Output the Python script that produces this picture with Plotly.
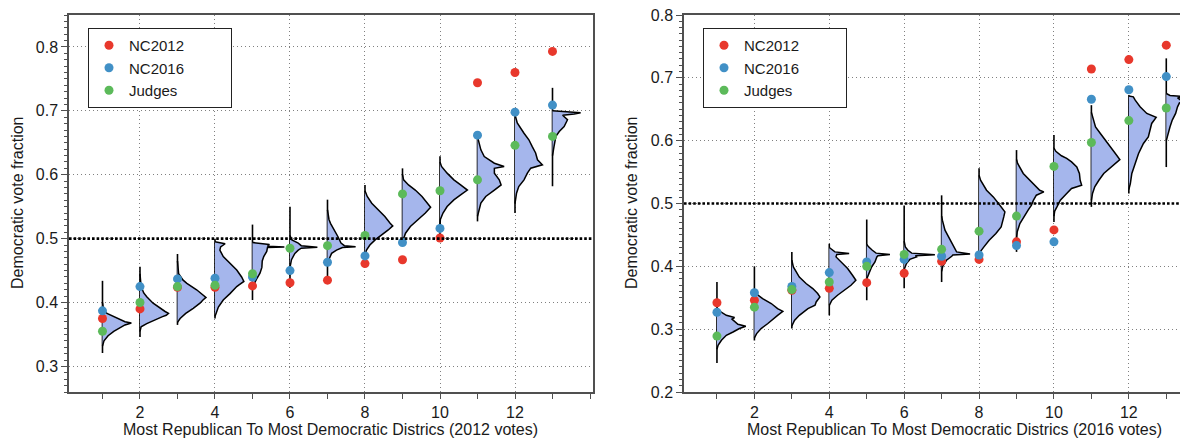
import plotly.graph_objects as go

DISTRICTS = list(range(1, 14))
THRESHOLD = 0.5

# ---------------- Left panel (2012 votes) ----------------
NC2012_A = [0.375, 0.390, 0.424, 0.424, 0.426, 0.431, 0.435, 0.461, 0.467, 0.501, 0.744, 0.760, 0.793]
NC2016_A = [0.387, 0.425, 0.437, 0.438, 0.440, 0.450, 0.463, 0.473, 0.494, 0.516, 0.662, 0.698, 0.709]
JUDGES_A = [0.355, 0.400, 0.425, 0.427, 0.445, 0.485, 0.489, 0.505, 0.570, 0.575, 0.592, 0.646, 0.660]

LINE_HI_A = [0.434, 0.456, 0.476, 0.500, 0.522, 0.550, 0.561, 0.584, 0.610, 0.629, 0.668, 0.699, 0.736]
LINE_LO_A = [0.321, 0.346, 0.365, 0.375, 0.404, 0.423, 0.433, 0.461, 0.494, 0.501, 0.527, 0.540, 0.582]

PROF_Y_A = [
    [0.400, 0.388, 0.383, 0.378, 0.375, 0.370, 0.368, 0.365, 0.360, 0.355, 0.348, 0.340, 0.332],
    [0.445, 0.425, 0.415, 0.409, 0.399, 0.391, 0.386, 0.383, 0.380, 0.378, 0.373, 0.367, 0.362, 0.355],
    [0.465, 0.445, 0.435, 0.430, 0.420, 0.412, 0.408, 0.404, 0.399, 0.391, 0.383, 0.375, 0.369],
    [0.495, 0.492, 0.487, 0.482, 0.472, 0.461, 0.451, 0.440, 0.433, 0.428, 0.425, 0.414, 0.404, 0.393, 0.383, 0.378],
    [0.494, 0.491, 0.488, 0.487, 0.486, 0.480, 0.472, 0.465, 0.455, 0.446, 0.438, 0.430, 0.424],
    [0.505, 0.498, 0.493, 0.489, 0.4865, 0.485, 0.482, 0.477, 0.467, 0.455],
    [0.545, 0.530, 0.524, 0.514, 0.503, 0.493, 0.489, 0.4875, 0.486, 0.482, 0.477, 0.469, 0.462],
    [0.575, 0.566, 0.5555, 0.545, 0.5345, 0.524, 0.520, 0.5136, 0.5058, 0.498, 0.490, 0.482, 0.475],
    [0.600, 0.592, 0.584, 0.576, 0.566, 0.5555, 0.549, 0.540, 0.529, 0.519, 0.5085, 0.500, 0.495],
    [0.620, 0.613, 0.6025, 0.592, 0.584, 0.576, 0.5685, 0.5607, 0.5502, 0.540, 0.530, 0.522],
    [0.662, 0.655, 0.639, 0.6285, 0.618, 0.613, 0.610, 0.6025, 0.592, 0.584, 0.576, 0.566, 0.5555, 0.545, 0.535],
    [0.694, 0.681, 0.665, 0.6547, 0.644, 0.634, 0.6234, 0.6155, 0.6103, 0.6025, 0.592, 0.5815, 0.571, 0.555],
    [0.700, 0.699, 0.697, 0.695, 0.693, 0.686, 0.680, 0.6755, 0.6677, 0.660, 0.644, 0.630],
]
PROF_W_A = [
    [0.0, 0.03, 0.12, 0.30, 0.45, 0.60, 0.77, 0.60, 0.45, 0.30, 0.15, 0.04, 0.0],
    [0.0, 0.03, 0.10, 0.18, 0.35, 0.53, 0.67, 0.76, 0.70, 0.60, 0.40, 0.18, 0.03, 0.0],
    [0.0, 0.03, 0.15, 0.25, 0.51, 0.69, 0.76, 0.68, 0.60, 0.42, 0.22, 0.07, 0.0],
    [0.0, 0.27, 0.15, 0.13, 0.22, 0.40, 0.58, 0.71, 0.77, 0.65, 0.58, 0.40, 0.22, 0.09, 0.03, 0.0],
    [0.0, 0.45, 0.40, 0.85, 0.40, 0.38, 0.30, 0.26, 0.25, 0.20, 0.12, 0.04, 0.0],
    [0.0, 0.05, 0.22, 0.30, 0.73, 0.30, 0.22, 0.13, 0.04, 0.0],
    [0.0, 0.04, 0.08, 0.18, 0.28, 0.36, 0.45, 0.75, 0.40, 0.24, 0.11, 0.05, 0.0],
    [0.0, 0.06, 0.18, 0.36, 0.53, 0.67, 0.74, 0.62, 0.44, 0.27, 0.13, 0.04, 0.0],
    [0.0, 0.03, 0.16, 0.34, 0.52, 0.66, 0.75, 0.61, 0.39, 0.21, 0.08, 0.02, 0.0],
    [0.0, 0.04, 0.19, 0.37, 0.55, 0.73, 0.55, 0.37, 0.19, 0.08, 0.01, 0.0],
    [0.0, 0.02, 0.09, 0.18, 0.45, 0.71, 0.45, 0.45, 0.58, 0.63, 0.45, 0.22, 0.09, 0.04, 0.0],
    [0.0, 0.06, 0.24, 0.37, 0.46, 0.55, 0.60, 0.73, 0.42, 0.33, 0.24, 0.10, 0.04, 0.0],
    [0.0, 0.36, 0.75, 0.58, 0.27, 0.40, 0.36, 0.31, 0.18, 0.09, 0.04, 0.0],
]

# ---------------- Right panel (2016 votes) ----------------
NC2012_B = [0.342, 0.346, 0.362, 0.365, 0.374, 0.389, 0.408, 0.411, 0.439, 0.458, 0.714, 0.729, 0.752]
NC2016_B = [0.327, 0.358, 0.368, 0.390, 0.407, 0.411, 0.416, 0.418, 0.433, 0.439, 0.666, 0.681, 0.702]
JUDGES_B = [0.289, 0.335, 0.363, 0.375, 0.400, 0.419, 0.427, 0.456, 0.480, 0.559, 0.597, 0.632, 0.652]

LINE_HI_B = [0.375, 0.400, 0.423, 0.436, 0.4745, 0.497, 0.513, 0.556, 0.585, 0.609, 0.6565, 0.6724, 0.731]
LINE_LO_B = [0.246, 0.282, 0.301, 0.322, 0.346, 0.365, 0.375, 0.410, 0.423, 0.4707, 0.4946, 0.516, 0.558]

PROF_Y_B = [
    [0.335, 0.330, 0.322, 0.3185, 0.316, 0.3142, 0.3078, 0.3046, 0.301, 0.2955, 0.2903, 0.2823, 0.2744, 0.268],
    [0.362, 0.3567, 0.3487, 0.3408, 0.3328, 0.3285, 0.322, 0.317, 0.309, 0.301, 0.293, 0.286],
    [0.410, 0.399, 0.383, 0.3726, 0.3646, 0.3567, 0.3513, 0.3433, 0.338, 0.3328, 0.322, 0.314, 0.305],
    [0.430, 0.428, 0.423, 0.4204, 0.419, 0.415, 0.407, 0.3965, 0.3858, 0.3779, 0.3699, 0.362, 0.354, 0.346, 0.338],
    [0.435, 0.431, 0.4256, 0.421, 0.419, 0.417, 0.415, 0.407, 0.399, 0.391, 0.380],
    [0.440, 0.431, 0.4256, 0.421, 0.4185, 0.417, 0.415, 0.411, 0.4045, 0.395],
    [0.480, 0.4734, 0.4575, 0.4468, 0.4363, 0.428, 0.423, 0.4195, 0.418, 0.416, 0.4097, 0.400, 0.392],
    [0.545, 0.537, 0.5212, 0.5105, 0.500, 0.492, 0.4866, 0.4787, 0.4707, 0.4628, 0.4522, 0.4416, 0.431, 0.423, 0.418],
    [0.570, 0.5637, 0.5478, 0.537, 0.529, 0.521, 0.5185, 0.5132, 0.505, 0.4974, 0.4894, 0.4787, 0.468, 0.455, 0.445],
    [0.588, 0.583, 0.576, 0.5717, 0.5663, 0.5583, 0.5478, 0.537, 0.5292, 0.524, 0.516, 0.5053, 0.4946, 0.488, 0.480],
    [0.645, 0.638, 0.622, 0.6115, 0.598, 0.590, 0.5796, 0.570, 0.5637, 0.5583, 0.5478, 0.537, 0.5265, 0.516, 0.505],
    [0.671, 0.6698, 0.6645, 0.6539, 0.6433, 0.637, 0.6274, 0.6167, 0.606, 0.5955, 0.5796, 0.5637, 0.5478, 0.5318, 0.522],
    [0.675, 0.672, 0.670, 0.668, 0.665, 0.662, 0.660, 0.6539, 0.6433, 0.6327, 0.622, 0.6115, 0.600],
]
PROF_W_B = [
    [0.0, 0.04, 0.25, 0.47, 0.40, 0.43, 0.56, 0.77, 0.60, 0.43, 0.25, 0.12, 0.03, 0.0],
    [0.0, 0.04, 0.22, 0.45, 0.62, 0.76, 0.62, 0.53, 0.36, 0.18, 0.06, 0.0],
    [0.0, 0.04, 0.20, 0.38, 0.56, 0.69, 0.75, 0.65, 0.62, 0.43, 0.20, 0.07, 0.0],
    [0.0, 0.05, 0.15, 0.53, 0.20, 0.18, 0.31, 0.49, 0.62, 0.71, 0.58, 0.40, 0.22, 0.07, 0.0],
    [0.0, 0.05, 0.15, 0.25, 0.62, 0.30, 0.27, 0.22, 0.13, 0.07, 0.0],
    [0.0, 0.03, 0.10, 0.20, 0.82, 0.30, 0.33, 0.15, 0.06, 0.0],
    [0.0, 0.02, 0.09, 0.18, 0.27, 0.36, 0.40, 0.76, 0.30, 0.27, 0.13, 0.03, 0.0],
    [0.0, 0.04, 0.20, 0.38, 0.52, 0.63, 0.69, 0.66, 0.63, 0.59, 0.45, 0.27, 0.13, 0.03, 0.0],
    [0.0, 0.03, 0.18, 0.36, 0.49, 0.62, 0.73, 0.53, 0.45, 0.40, 0.31, 0.20, 0.09, 0.02, 0.0],
    [0.0, 0.05, 0.20, 0.34, 0.47, 0.61, 0.68, 0.70, 0.74, 0.47, 0.34, 0.17, 0.08, 0.02, 0.0],
    [0.0, 0.03, 0.11, 0.24, 0.42, 0.51, 0.64, 0.76, 0.64, 0.51, 0.33, 0.20, 0.09, 0.03, 0.0],
    [0.0, 0.12, 0.17, 0.30, 0.48, 0.73, 0.61, 0.57, 0.52, 0.39, 0.26, 0.17, 0.08, 0.04, 0.0],
    [0.0, 0.10, 0.52, 0.30, 0.38, 0.52, 0.35, 0.30, 0.25, 0.16, 0.10, 0.05, 0.0],
]

X_TITLE_A = "Most Republican To Most Democratic Districs (2012 votes)"
X_TITLE_B = "Most Republican To Most Democratic Districs (2016 votes)"
Y_TITLE = "Democratic vote fraction"
SERIES_NAMES = ["NC2012", "NC2016", "Judges"]

RED = "#e8382c"
BLUE = "#4190c6"
GREEN = "#5cba5a"
FILL = "#a5b6ec"
FONT = "Liberation Sans, Arial, Helvetica, sans-serif"
FS = 16

fig = go.Figure()


def add_panel(xa, ya, legend, line_lo, line_hi, prof_y, prof_w, s12, s16, sj):
    for d, lo, hi in zip(DISTRICTS, line_lo, line_hi):
        fig.add_trace(go.Scatter(x=[d, d], y=[hi, lo], mode="lines",
                                 line=dict(color="#000000", width=1.6),
                                 xaxis=xa, yaxis=ya, showlegend=False, hoverinfo="skip"))
    for d, ys, ws in zip(DISTRICTS, prof_y, prof_w):
        fig.add_trace(go.Scatter(x=[d + w for w in ws], y=ys, mode="lines",
                                 fill="toself", fillcolor=FILL,
                                 line=dict(color="#000000", width=1.5),
                                 xaxis=xa, yaxis=ya, showlegend=False, hoverinfo="skip"))
    for name, vals, col in zip(SERIES_NAMES, (s12, s16, sj), (RED, BLUE, GREEN)):
        fig.add_trace(go.Scatter(x=DISTRICTS, y=vals, mode="markers",
                                 name=name + "\u00a0" * 10,
                                 marker=dict(color=col, size=9, line=dict(width=0)),
                                 xaxis=xa, yaxis=ya, legend=legend))


add_panel("x", "y", "legend", LINE_LO_A, LINE_HI_A, PROF_Y_A, PROF_W_A, NC2012_A, NC2016_A, JUDGES_A)
add_panel("x2", "y2", "legend2", LINE_LO_B, LINE_HI_B, PROF_Y_B, PROF_W_B, NC2012_B, NC2016_B, JUDGES_B)

for xr, yr in (("x domain", "y"), ("x2 domain", "y2")):
    fig.add_shape(type="line", xref=xr, yref=yr, x0=0, x1=1, y0=THRESHOLD, y1=THRESHOLD,
                  line=dict(color="#000000", width=2.6, dash="2.6px,2px"), layer="above")

# The page body adds an 8px margin, so the figure is laid out 8px smaller and
# every target pixel position below is expressed in screen pixels minus 8.
PAGE = 8
W, H = 1188 - PAGE, 439 - PAGE
L, R, T = 69 - PAGE, 0, 15 - PAGE
B = H - (392 - PAGE)
PW = W - L - R
PH = H - T - B


def px_x(sx):
    return (sx - PAGE - L) / PW


def px_y(sy):
    return 1 - (sy - PAGE - T) / PH


axis_line = dict(showline=True, linecolor="#505050", linewidth=1.5, mirror=True,
                 ticks="outside", tickcolor="#505050", tickwidth=1.2, zeroline=False,
                 showgrid=True, gridcolor="#808080", griddash="1px,3px", gridwidth=1,
                 automargin=False, ticklabeloverflow="allow",
                 tickfont=dict(size=FS, color="#1a1a1a", family=FONT))

xcommon = dict(axis_line, tickmode="array", tickvals=[2, 4, 6, 8, 10, 12], ticklen=5,
               minor=dict(tickmode="linear", tick0=0, dtick=1, ticks="outside", ticklen=5,
                          tickcolor="#505050", showgrid=False))
ycommon = dict(axis_line, tickmode="linear", tick0=0, dtick=0.1, tickformat=".1f", ticklen=6,
               minor=dict(tickmode="linear", tick0=0, dtick=0.01, ticks="outside", ticklen=3,
                          tickcolor="#505050", showgrid=False))

title_font = dict(size=FS, color="#1a1a1a", family=FONT)
annotations = [
    dict(text=X_TITLE_A, xref="paper", yref="paper", x=px_x(330), y=px_y(429),
         xanchor="center", yanchor="middle", showarrow=False, font=title_font),
    dict(text=X_TITLE_B, xref="paper", yref="paper", x=px_x(954), y=px_y(429),
         xanchor="center", yanchor="middle", showarrow=False, font=title_font),
    dict(text=Y_TITLE, xref="paper", yref="paper", x=px_x(18), y=px_y(203),
         xanchor="center", yanchor="middle", textangle=-90, showarrow=False, font=title_font),
    dict(text=Y_TITLE, xref="paper", yref="paper", x=px_x(632), y=px_y(203),
         xanchor="center", yanchor="middle", textangle=-90, showarrow=False, font=title_font),
]

legend_common = dict(xanchor="left", yanchor="top", bordercolor="#222222", borderwidth=1,
                     bgcolor="white", font=dict(size=15, family=FONT, color="#1a1a1a"),
                     itemwidth=30, tracegroupgap=0)

fig.update_layout(
    width=W, height=H,
    margin=dict(l=L, r=R, t=T, b=B, autoexpand=False),
    paper_bgcolor="white", plot_bgcolor="white",
    font=dict(family=FONT, size=FS, color="#1a1a1a"),
    xaxis=dict(xcommon, domain=[0, px_x(593)], range=[0.107, 14.08], anchor="y"),
    yaxis=dict(ycommon, domain=[0, 1], range=[0.26, 0.85], anchor="x"),
    xaxis2=dict(xcommon, domain=[px_x(684), 1], range=[0.12, 13.58], anchor="y2"),
    yaxis2=dict(ycommon, domain=[0, 1], range=[0.2, 0.8], anchor="x2"),
    legend=dict(legend_common, x=px_x(88), y=px_y(28)),
    legend2=dict(legend_common, x=px_x(703), y=px_y(28)),
    annotations=annotations,
    showlegend=True,
)

fig.write_html("out.html")
